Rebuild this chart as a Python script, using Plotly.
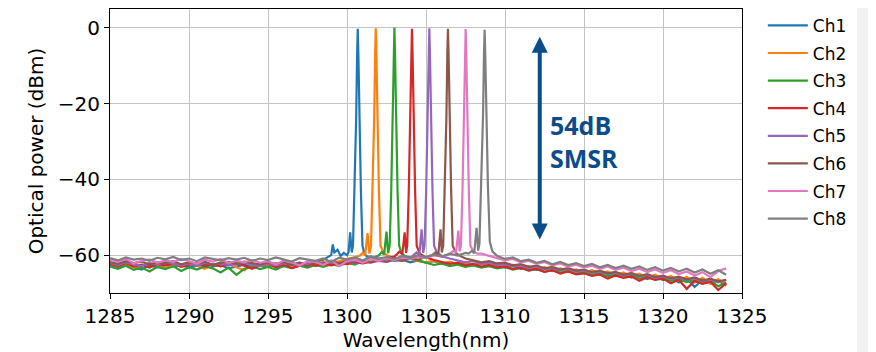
import plotly.graph_objects as go

# ---------------- data ----------------
channels = ["Ch1", "Ch2", "Ch3", "Ch4", "Ch5", "Ch6", "Ch7", "Ch8"]
colors = ["#1f77b4", "#ff7f0e", "#2ca02c", "#d62728",
          "#9467bd", "#8c564b", "#e377c2", "#7f7f7f"]

# sampling grid of the noise floor, 1285.0 ... 1324.0 nm every 0.5 nm
floor_wl = [1285 + 0.5 * i for i in range(79)]

floor_ch1 = [-62.6, -63.4, -62.4, -63.1, -63.8, -62.7, -63.2, -62.5, -63.0, -62.6,
             -63.3, -62.8, -62.4, -63.0, -62.6, -63.5, -62.9, -62.5, -63.1, -62.7,
             -63.0, -62.4, -62.9, -62.3, -62.8, -62.2, -61.8, -61.2, -60.8, -60.2,
             -59.8, -60.0, -60.3, -60.6, -61.0, -60.8, -61.5, -61.2, -61.9, -61.4,
             -62.0, -61.6, -62.3, -61.8, -62.5, -62.0, -62.7, -62.2, -62.9, -62.5,
             -63.2, -62.8, -63.6, -63.1, -63.9, -63.4, -64.2, -63.7, -64.5, -64.0,
             -64.8, -64.2, -65.2, -64.6, -65.5, -64.9, -65.9, -65.2, -66.3, -65.5,
             -66.6, -65.9, -67.2, -66.2, -68.4, -66.5, -67.3, -66.8, -68.0]
floor_ch2 = [-62.4, -62.9, -62.2, -63.3, -62.6, -62.1, -62.8, -63.5, -62.4, -62.9,
             -62.3, -62.8, -63.6, -62.5, -62.9, -62.2, -63.2, -64.0, -62.6, -62.3,
             -62.8, -62.2, -62.7, -62.1, -62.6, -62.0, -62.4, -61.8, -62.2, -61.5,
             -61.0, -60.6, -60.0, -60.2, -60.0, -60.4, -60.8, -61.3, -61.0, -61.6,
             -61.9, -61.5, -62.2, -61.8, -62.4, -62.0, -62.6, -62.2, -62.8, -62.4,
             -63.0, -62.6, -63.3, -62.9, -63.7, -63.2, -64.0, -63.5, -64.4, -63.8,
             -64.6, -64.0, -64.9, -64.3, -65.3, -64.6, -65.6, -64.9, -66.0, -65.2,
             -66.3, -65.5, -66.7, -65.8, -67.2, -66.0, -67.6, -66.3, -67.9]
floor_ch3 = [-63.0, -63.6, -62.8, -63.9, -63.3, -64.3, -63.1, -63.7, -62.9, -64.2,
             -63.2, -63.8, -63.0, -63.5, -64.6, -63.3, -65.2, -63.6, -63.0, -63.7,
             -63.1, -63.8, -62.9, -63.4, -62.8, -63.3, -62.6, -63.1, -62.4, -62.8,
             -62.0, -62.5, -61.5, -61.0, -60.4, -60.0, -59.8, -60.2, -60.6, -61.4,
             -61.9, -62.6, -62.2, -62.9, -62.5, -63.1, -62.7, -63.3, -62.9, -63.5,
             -63.2, -63.8, -63.4, -64.1, -63.7, -64.4, -63.9, -64.6, -64.2, -64.9,
             -64.5, -65.2, -64.8, -65.6, -65.1, -65.9, -65.4, -66.2, -65.7, -66.5,
             -66.0, -66.8, -66.3, -67.1, -66.6, -67.5, -66.9, -68.2, -67.2]
floor_ch4 = [-62.3, -62.9, -62.1, -63.0, -62.5, -63.3, -62.4, -62.8, -62.2, -63.1,
             -62.6, -62.2, -62.9, -62.4, -63.0, -62.5, -62.1, -62.8, -63.6, -62.6,
             -62.3, -63.2, -62.5, -63.4, -62.7, -62.2, -62.8, -62.3, -62.7, -62.1,
             -62.4, -61.9, -62.2, -61.7, -61.4, -60.9, -60.4, -60.0, -59.8, -59.6,
             -60.6, -61.3, -61.8, -62.3, -62.0, -62.7, -62.3, -63.0, -62.6, -63.2,
             -63.0, -63.6, -63.3, -64.0, -63.6, -64.4, -64.0, -64.9, -64.3, -65.1,
             -64.8, -65.5, -65.1, -66.2, -65.4, -66.0, -65.6, -66.8, -65.9, -66.5,
             -66.2, -67.4, -66.5, -68.9, -66.8, -67.6, -67.0, -69.2, -67.4]
floor_ch5 = [-62.0, -62.6, -61.9, -62.4, -62.9, -62.1, -62.5, -61.8, -62.3, -62.7,
             -62.2, -62.8, -62.0, -62.5, -62.1, -62.7, -62.3, -62.0, -62.6, -62.9,
             -62.2, -62.7, -62.1, -62.5, -62.0, -62.4, -61.9, -62.3, -61.8, -62.2,
             -61.7, -62.1, -61.6, -62.0, -61.5, -61.8, -61.2, -61.4, -60.8, -60.4,
             -60.0, -59.8, -60.3, -60.9, -61.4, -61.9, -61.6, -62.3, -62.0, -62.6,
             -62.4, -63.0, -62.7, -63.4, -63.0, -63.7, -63.3, -64.1, -63.6, -64.4,
             -64.0, -64.7, -64.3, -65.0, -64.6, -65.4, -64.9, -65.7, -65.2, -66.0,
             -65.6, -66.3, -65.9, -66.6, -66.1, -66.9, -66.4, -67.2, -66.6]
floor_ch6 = [-61.8, -62.3, -61.6, -62.1, -61.7, -62.5, -61.9, -62.2, -61.6, -62.4,
             -61.9, -62.2, -61.7, -62.6, -62.0, -61.8, -62.3, -61.7, -62.1, -62.5,
             -61.9, -62.3, -61.8, -62.7, -62.0, -63.0, -61.9, -62.2, -61.7, -62.1,
             -61.6, -62.0, -61.5, -61.9, -61.3, -61.7, -61.2, -61.5, -60.9, -61.2,
             -60.5, -60.1, -59.7, -59.9, -60.3, -60.9, -61.4, -61.9, -61.6, -62.2,
             -62.0, -62.7, -62.4, -63.1, -62.8, -63.5, -63.1, -63.8, -63.4, -64.1,
             -63.8, -64.5, -64.1, -64.8, -64.4, -65.2, -64.7, -65.5, -65.0, -65.8,
             -65.4, -66.1, -65.7, -66.4, -65.9, -66.7, -66.2, -66.9, -66.5]
floor_ch7 = [-61.2, -61.8, -61.0, -62.2, -61.5, -61.1, -62.0, -61.4, -61.8, -61.0,
             -61.6, -62.3, -61.2, -61.7, -61.0, -62.1, -61.5, -61.9, -61.3, -62.0,
             -61.6, -62.5, -61.4, -61.9, -62.8, -61.6, -61.8, -62.6, -61.4, -62.9,
             -61.6, -61.2, -62.0, -61.0, -61.5, -60.8, -61.3, -60.6, -61.0, -60.4,
             -60.8, -60.1, -60.4, -59.8, -59.4, -59.0, -59.3, -59.6, -60.2, -60.8,
             -61.4, -61.0, -61.9, -61.5, -62.3, -61.8, -62.7, -62.2, -63.0, -62.5,
             -63.3, -62.8, -63.6, -63.0, -63.9, -63.3, -64.2, -63.6, -64.5, -63.8,
             -64.7, -64.0, -65.0, -64.3, -65.4, -64.5, -65.8, -64.2, -63.5]
floor_ch8 = [-60.8, -61.4, -60.6, -61.2, -60.9, -61.5, -60.7, -61.1, -60.5, -61.3,
             -60.9, -61.6, -60.6, -61.0, -61.4, -60.8, -61.2, -60.7, -61.5, -60.9,
             -61.3, -60.6, -61.1, -61.7, -60.8, -61.2, -61.5, -60.9, -61.8, -60.7,
             -61.2, -60.6, -61.4, -60.3, -60.9, -60.5, -61.0, -60.2, -60.7, -60.0,
             -60.6, -59.8, -60.4, -59.6, -60.1, -59.4, -59.8, -59.2, -59.5, -60.2,
             -61.0, -60.6, -61.6, -61.2, -62.0, -61.5, -62.4, -61.8, -62.6, -62.1,
             -62.9, -62.3, -63.2, -62.6, -63.4, -62.8, -63.6, -63.0, -63.9, -63.2,
             -64.1, -63.4, -64.3, -63.6, -64.6, -63.8, -64.9, -64.0, -65.2]

# lasing peak + side mode of every channel (wavelength nm, power dBm)
peak_wl_ch1 = [1299.0, 1299.1, 1299.2, 1299.4, 1299.6, 1299.8, 1300.0, 1300.1, 1300.2, 1300.3,
               1300.38, 1300.48, 1300.58, 1300.64, 1300.68, 1300.72, 1300.78, 1300.88, 1300.98, 1301.1, 1301.25]
peak_pw_ch1 = [-60.0, -57.2, -59.3, -58.6, -60.2, -59.4, -60.0, -59.2, -54.0, -59.3,
               -57.5, -43.0, -24.0, -7.0, -0.2, -7.0, -24.0, -43.0, -57.5, -59.6, -60.3]
peak_wl_ch2 = [1300.8, 1301.0, 1301.15, 1301.3, 1301.42, 1301.52, 1301.62, 1301.72, 1301.78, 1301.82,
               1301.86, 1301.92, 1302.02, 1302.12, 1302.3, 1302.5]
peak_pw_ch2 = [-60.2, -59.4, -60.0, -54.2, -59.6, -57.5, -43.0, -24.0, -7.0, -0.1,
               -7.0, -24.0, -43.0, -57.5, -59.2, -60.0]
peak_wl_ch3 = [1302.0, 1302.2, 1302.35, 1302.5, 1302.6, 1302.7, 1302.8, 1302.9, 1302.96, 1303.0,
               1303.04, 1303.1, 1303.2, 1303.3, 1303.45, 1303.7]
peak_pw_ch3 = [-60.1, -59.2, -59.8, -53.8, -59.5, -57.5, -43.0, -24.0, -7.0, 0.1,
               -7.0, -24.0, -43.0, -57.5, -59.5, -60.3]
peak_wl_ch4 = [1303.1, 1303.3, 1303.5, 1303.65, 1303.74, 1303.81, 1303.91, 1304.01, 1304.07, 1304.11,
               1304.15, 1304.21, 1304.31, 1304.41, 1304.6, 1304.85]
peak_pw_ch4 = [-60.0, -59.1, -59.7, -54.0, -59.4, -57.5, -43.0, -24.0, -7.0, -0.2,
               -7.0, -24.0, -43.0, -57.5, -59.6, -60.2]
peak_wl_ch5 = [1304.2, 1304.4, 1304.58, 1304.72, 1304.82, 1304.91, 1305.01, 1305.11, 1305.17, 1305.21,
               1305.25, 1305.31, 1305.41, 1305.51, 1305.7, 1305.95]
peak_pw_ch5 = [-60.1, -59.3, -59.9, -53.2, -59.4, -57.5, -43.0, -24.0, -7.0, -0.1,
               -7.0, -24.0, -43.0, -57.5, -59.4, -60.0]
peak_wl_ch6 = [1305.4, 1305.6, 1305.78, 1305.92, 1306.0, 1306.09, 1306.19, 1306.29, 1306.35, 1306.39,
               1306.43, 1306.49, 1306.59, 1306.69, 1306.9, 1307.15]
peak_pw_ch6 = [-60.0, -59.3, -59.8, -53.2, -59.3, -57.5, -43.0, -24.0, -7.0, -0.2,
               -7.0, -24.0, -43.0, -57.5, -59.5, -60.2]
peak_wl_ch7 = [1306.55, 1306.75, 1306.9, 1307.05, 1307.13, 1307.21, 1307.31, 1307.41, 1307.47, 1307.51,
               1307.55, 1307.61, 1307.71, 1307.81, 1308.0, 1308.25]
peak_pw_ch7 = [-59.5, -58.8, -59.4, -53.5, -59.0, -57.5, -43.0, -24.0, -7.0, -0.3,
               -7.0, -24.0, -43.0, -57.5, -59.0, -59.6]
peak_wl_ch8 = [1307.7, 1307.9, 1308.05, 1308.2, 1308.3, 1308.38, 1308.5, 1308.61, 1308.67, 1308.71,
               1308.75, 1308.81, 1308.92, 1309.04, 1309.2, 1309.4]
peak_pw_ch8 = [-59.6, -58.9, -59.5, -52.8, -58.8, -57.0, -42.0, -23.0, -7.0, -0.5,
               -7.0, -23.0, -42.0, -56.5, -59.0, -59.8]

floors = [floor_ch1, floor_ch2, floor_ch3, floor_ch4, floor_ch5, floor_ch6, floor_ch7, floor_ch8]
peak_wls = [peak_wl_ch1, peak_wl_ch2, peak_wl_ch3, peak_wl_ch4,
            peak_wl_ch5, peak_wl_ch6, peak_wl_ch7, peak_wl_ch8]
peak_pws = [peak_pw_ch1, peak_pw_ch2, peak_pw_ch3, peak_pw_ch4,
            peak_pw_ch5, peak_pw_ch6, peak_pw_ch7, peak_pw_ch8]

x_ticks = [1285, 1290, 1295, 1300, 1305, 1310, 1315, 1320, 1325]
y_ticks = [0, -20, -40, -60]
annot_text = "54dB<br>SMSR"
smsr_top, smsr_bottom, smsr_wl = -1.9, -55.9, 1312.2

for f in floors:
    assert len(f) == len(floor_wl), len(f)
for a, b in zip(peak_wls, peak_pws):
    assert len(a) == len(b)


def build(floor, pwl, ppw):
    lo, hi = pwl[0], pwl[-1]
    pts = [(w, p) for w, p in zip(floor_wl, floor) if w < lo or w > hi]
    pts += list(zip(pwl, ppw))
    pts.sort()
    return [p[0] for p in pts], [p[1] for p in pts]


FONT = "DejaVu Sans"
BLUE = "#0b4c8a"

fig = go.Figure()
for name, col, fl, pwl, ppw in zip(channels, colors, floors, peak_wls, peak_pws):
    xs, ys = build(fl, pwl, ppw)
    fig.add_trace(go.Scatter(x=xs, y=ys, mode="lines", name=name, legendgroup=name,
                             line=dict(color=col, width=2.2)))

axis_common = dict(showgrid=True, gridcolor="#c4c4c4", gridwidth=1,
                   showline=True, mirror=True, linecolor="black", linewidth=1,
                   ticks="outside", ticklen=5, tickcolor="black",
                   tickfont=dict(family=FONT, size=20, color="black"),
                   zeroline=False, automargin=False)

# the page body adds an 8 px offset, so the figure is 868 x 344
fig.update_layout(
    width=868, height=344, autosize=False,
    margin=dict(l=102, r=134, t=1, b=59, autoexpand=False),
    paper_bgcolor="white", plot_bgcolor="white",
    font=dict(family=FONT, color="black"),
    xaxis=dict(range=[1285, 1325], tickvals=x_ticks,
               title=dict(text="Wavelength(nm)", font=dict(family=FONT, size=20), standoff=0),
               **axis_common),
    yaxis=dict(range=[-70, 5], tickvals=y_ticks,
               title=dict(text="Optical power (dBm)", font=dict(family=FONT, size=20), standoff=8),
               **axis_common),
    legend=dict(x=1.033, y=1.004, xanchor="left", yanchor="top",
                font=dict(family=FONT, size=17, color="black"),
                tracegroupgap=2.5, itemwidth=40, maxheight=330,
                bgcolor="rgba(0,0,0,0)", borderwidth=0),
    showlegend=True,
)

# light grey strip at the right edge of the picture
fig.add_shape(type="rect", xref="paper", yref="paper",
              x0=(849 - 102) / 632, x1=(880 - 102) / 632, y0=-0.3, y1=1.1,
              fillcolor="#f2f2f2", line=dict(width=0), layer="below")

# double-headed SMSR arrow
fig.add_annotation(x=smsr_wl, y=smsr_bottom, ax=smsr_wl, ay=smsr_top,
                   xref="x", yref="y", axref="x", ayref="y",
                   text="", showarrow=True, arrowside="end+start",
                   arrowhead=2, startarrowhead=2, arrowsize=0.8, startarrowsize=0.8,
                   arrowwidth=4, arrowcolor=BLUE, standoff=0, startstandoff=0)
fig.add_annotation(x=1312.75, y=-30.1, xref="x", yref="y",
                   text="<b>" + annot_text.replace("<br>", "</b><br><b>") + "</b>",
                   showarrow=False, xanchor="left", yanchor="middle", align="left",
                   font=dict(family="Open Sans", size=25, color=BLUE))

fig.write_html("out.html")
